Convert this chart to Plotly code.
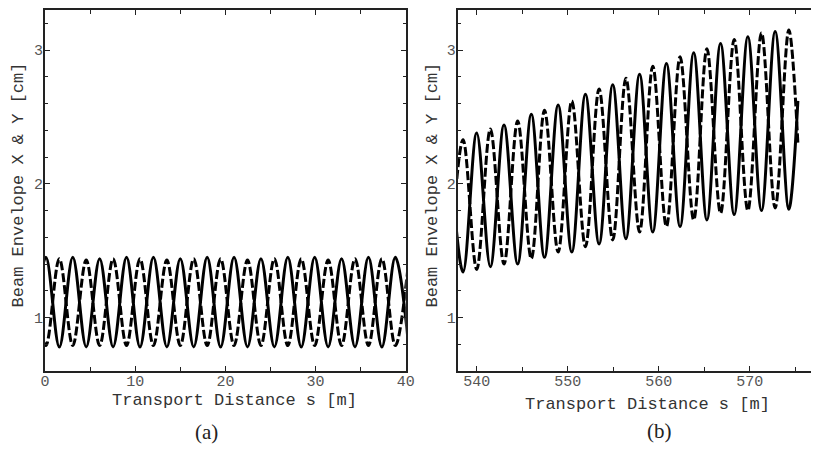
import plotly.graph_objects as go

# (a) first 40 m of the channel: s positions of the envelope turning points
s_a = [-1.39, 0.1, 1.59, 3.08, 4.57, 6.06, 7.55, 9.04, 10.53, 12.02, 13.51,
       15.0, 16.49, 17.98, 19.47, 20.96, 22.45, 23.94, 25.43, 26.92, 28.41,
       29.9, 31.39, 32.88, 34.37, 35.86, 37.35, 38.84, 40.33]
x_env_a = [0.78, 1.45, 0.78, 1.45, 0.78, 1.44, 0.78, 1.45, 0.78, 1.45, 0.78,
           1.44, 0.78, 1.45, 0.78, 1.45, 0.78, 1.44, 0.78, 1.45, 0.78,
           1.45, 0.78, 1.44, 0.78, 1.45, 0.78, 1.45, 0.78]
y_env_a = [1.44, 0.79, 1.44, 0.79, 1.43, 0.79, 1.44, 0.79, 1.44, 0.79, 1.43,
           0.79, 1.44, 0.79, 1.44, 0.79, 1.43, 0.79, 1.44, 0.79, 1.44,
           0.79, 1.43, 0.79, 1.44, 0.79, 1.44, 0.79, 1.43]

# (b) end of the channel, 538-575 m
s_b = [537.0, 538.5, 540.0, 541.5, 543.0, 544.5, 546.0, 547.45, 548.95, 550.45,
       551.95, 553.45, 554.95, 556.4, 557.9, 559.35, 560.85, 562.35, 563.85,
       565.3, 566.8, 568.3, 569.8, 571.3, 572.8, 574.3, 575.3]
x_env_b = [2.30, 1.34, 2.38, 1.38, 2.44, 1.40, 2.52, 1.45, 2.59, 1.49,
           2.67, 1.55, 2.74, 1.59, 2.82, 1.64, 2.90, 1.68, 2.98,
           1.73, 3.05, 1.77, 3.10, 1.80, 3.14, 1.81, 2.62]
y_env_b = [1.32, 2.33, 1.36, 2.41, 1.40, 2.47, 1.44, 2.55, 1.49, 2.62,
           1.53, 2.71, 1.58, 2.79, 1.64, 2.88, 1.68, 2.95, 1.73,
           3.01, 1.78, 3.08, 1.80, 3.13, 1.82, 3.15, 2.30]

MONO = "Liberation Mono, Courier New, monospace"

fig = go.Figure()
for s, xe, ye, xa, ya in [(s_a, x_env_a, y_env_a, "x", "y"),
                          (s_b, x_env_b, y_env_b, "x2", "y2")]:
    fig.add_trace(go.Scatter(x=s, y=xe, mode="lines", xaxis=xa, yaxis=ya,
                             line=dict(color="black", width=3, shape="spline"),
                             showlegend=False))
    fig.add_trace(go.Scatter(x=s, y=ye, mode="lines", xaxis=xa, yaxis=ya,
                             line=dict(color="black", width=3, shape="spline",
                                       dash="9px,3px"),
                             showlegend=False))

axis_common = dict(showline=True, linecolor="#222", linewidth=2, ticks="inside",
                   ticklen=5, tickcolor="#222", showgrid=False, zeroline=False,
                   tickfont=dict(family=MONO, size=15, color="#555"))
x_minor = dict(dtick=5, ticks="inside", ticklen=4, tickcolor="#222")
y_minor = dict(dtick=0.2, ticks="inside", ticklen=3, tickcolor="#222")

# page body keeps its 8px margin, so the figure is 8px smaller each way
fig.update_layout(
    width=812, height=441,
    margin=dict(l=37, r=0, t=0, b=78),
    paper_bgcolor="white", plot_bgcolor="white",
    xaxis=dict(domain=[0, 0.471], range=[0, 40], dtick=10, mirror="ticks",
               minor=x_minor, anchor="y", ticklabelstandoff=-5, **axis_common),
    yaxis=dict(domain=[0, 1], range=[0.6, 3.3], dtick=1, tick0=0, mirror="ticks",
               minor=y_minor, anchor="x", ticklabelstandoff=-3, **axis_common),
    xaxis2=dict(domain=[0.539, 1.0], range=[537.93, 576.74], dtick=10, tick0=0,
                mirror="ticks", minor=x_minor, anchor="y2", ticklabelstandoff=-5,
                **axis_common),
    yaxis2=dict(domain=[0, 1], range=[0.6, 3.3], dtick=1, tick0=0, mirror=False,
                minor=y_minor, anchor="x2", ticklabelstandoff=-3, **axis_common),
)

xlab = "Transport Distance s [m]"
ylab = "Beam Envelope X & Y [cm]"
title_font = dict(family=MONO, size=17, color="#333")
cap_font = dict(family="Liberation Serif, Times New Roman, serif", size=21, color="#222")
annots = [
    dict(x=0.2477, y=-0.0826, text=xlab, font=title_font),
    dict(x=0.787, y=-0.094, text=xlab, font=title_font),
    dict(x=-0.0348, y=0.515, text=ylab, font=title_font, textangle=-90),
    dict(x=0.5058, y=0.515, text=ylab, font=title_font, textangle=-90),
    dict(x=0.2103, y=-0.168, text="(a)", font=cap_font),
    dict(x=0.8026, y=-0.166, text="(b)", font=cap_font),
]
for a in annots:
    fig.add_annotation(xref="paper", yref="paper", showarrow=False,
                       xanchor="center", yanchor="middle", **a)

fig.write_html("out.html")
